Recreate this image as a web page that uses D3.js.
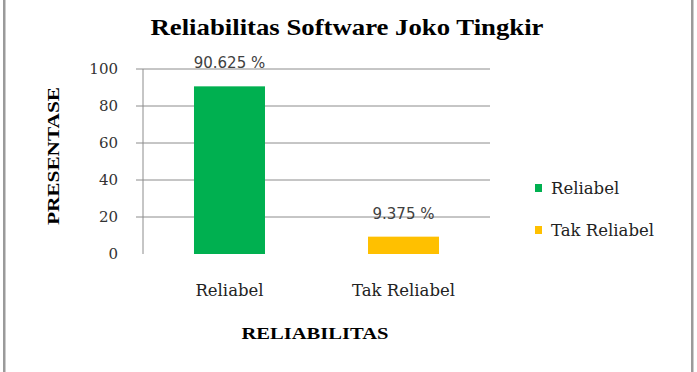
<!DOCTYPE html>
<html>
<head>
<meta charset="utf-8">
<script src="https://cdn.jsdelivr.net/npm/d3@7"></script>
<style>
  body { margin: 0; background: #fff; }
</style>
</head>
<body>
<div id="chart"></div>
<script>
var categories = ["Reliabel", "Tak Reliabel"];
var values = [90.625, 9.375];
var valueLabels = ["90.625 %", "9.375 %"];
var colors = ["#00b050", "#ffc000"];
var yTicks = [0, 20, 40, 60, 80, 100];

var W = 697, H = 372;
var margin = {top: 69, left: 143, right: 207, bottom: 118};
var width = W - margin.left - margin.right,
    height = H - margin.top - margin.bottom;

var svg = d3.select("#chart").append("svg")
    .attr("width", W)
    .attr("height", H);

// outer frame (left and right edges)
svg.append("rect").attr("x", 3).attr("y", 0).attr("width", 2.5).attr("height", H).style("fill", "#9a9a9a");
svg.append("rect").attr("x", 691).attr("y", 0).attr("width", 2.5).attr("height", H).style("fill", "#9a9a9a");

// title
svg.append("text")
    .attr("x", 347).attr("y", 35)
    .attr("textLength", 393)
    .attr("lengthAdjust", "spacingAndGlyphs")
    .style("text-anchor", "middle")
    .style("font-family", "'Liberation Serif', serif")
    .style("font-weight", "bold")
    .style("font-size", "24px")
    .text("Reliabilitas Software Joko Tingkir");

var g = svg.append("g")
    .attr("transform", "translate(" + margin.left + "," + margin.top + ")");

var x = d3.scaleBand().domain(categories).range([0, width]).paddingInner(0.592).paddingOuter(0.293);
var y = d3.scaleLinear().domain([0, 100]).range([height, 0]);

// gridlines
g.selectAll(".grid")
    .data(yTicks.filter(function(d) { return d > 0; }))
    .enter().append("line")
    .attr("x1", -7).attr("x2", width)
    .attr("y1", function(d) { return y(d); })
    .attr("y2", function(d) { return y(d); })
    .style("stroke", "#8c8c8c")
    .style("stroke-width", 1);

// y axis line
g.append("line")
    .attr("x1", 0).attr("x2", 0)
    .attr("y1", 0).attr("y2", height)
    .style("stroke", "#8c8c8c");

// y tick labels
g.selectAll(".ytick")
    .data(yTicks)
    .enter().append("text")
    .attr("x", -25)
    .attr("y", function(d) { return y(d); })
    .attr("dy", "0.35em")
    .style("text-anchor", "end")
    .style("font-family", "'DejaVu Serif', serif")
    .style("font-size", "15px")
    .style("fill", "#333")
    .text(function(d) { return d; });

// bars
g.selectAll(".bar")
    .data(values)
    .enter().append("rect")
    .attr("x", function(d, i) { return x(categories[i]); })
    .attr("y", function(d) { return y(d); })
    .attr("width", x.bandwidth())
    .attr("height", function(d) { return height - y(d); })
    .style("fill", function(d, i) { return colors[i]; });

// value labels
g.selectAll(".vlabel")
    .data(values)
    .enter().append("text")
    .attr("x", function(d, i) { return x(categories[i]) + x.bandwidth() / 2; })
    .attr("y", function(d) { return y(d) - 18; })
    .style("text-anchor", "middle")
    .style("font-family", "'DejaVu Sans', sans-serif")
    .style("font-size", "15px")
    .style("fill", "#404040")
    .text(function(d, i) { return valueLabels[i]; });

// category labels
g.selectAll(".xlabel")
    .data(categories)
    .enter().append("text")
    .attr("x", function(d) { return x(d) + x.bandwidth() / 2; })
    .attr("y", height + 42)
    .style("text-anchor", "middle")
    .style("font-family", "'DejaVu Serif', serif")
    .style("font-size", "16.5px")
    .style("fill", "#222")
    .text(function(d) { return d; });

// axis titles
svg.append("text")
    .attr("x", 315).attr("y", 339)
    .attr("textLength", 147)
    .attr("lengthAdjust", "spacingAndGlyphs")
    .style("text-anchor", "middle")
    .style("font-family", "'Liberation Serif', serif")
    .style("font-weight", "bold")
    .style("font-size", "17px")
    .text("RELIABILITAS");

svg.append("text")
    .attr("transform", "translate(59,156) rotate(-90)")
    .attr("textLength", 138)
    .attr("lengthAdjust", "spacingAndGlyphs")
    .style("text-anchor", "middle")
    .style("font-family", "'Liberation Serif', serif")
    .style("font-weight", "bold")
    .style("font-size", "17px")
    .text("PRESENTASE");

// legend
var legend = svg.selectAll(".legend")
    .data(categories)
    .enter().append("g")
    .attr("transform", function(d, i) { return "translate(535," + (188 + i * 42) + ")"; });

legend.append("rect")
    .attr("x", 0).attr("y", -4)
    .attr("width", 7).attr("height", 8)
    .style("fill", function(d, i) { return colors[i]; });

legend.append("text")
    .attr("x", 16).attr("y", 0)
    .attr("dy", "0.35em")
    .style("font-family", "'DejaVu Serif', serif")
    .style("font-size", "16.5px")
    .style("fill", "#222")
    .text(function(d) { return d; });
</script>
</body>
</html>
